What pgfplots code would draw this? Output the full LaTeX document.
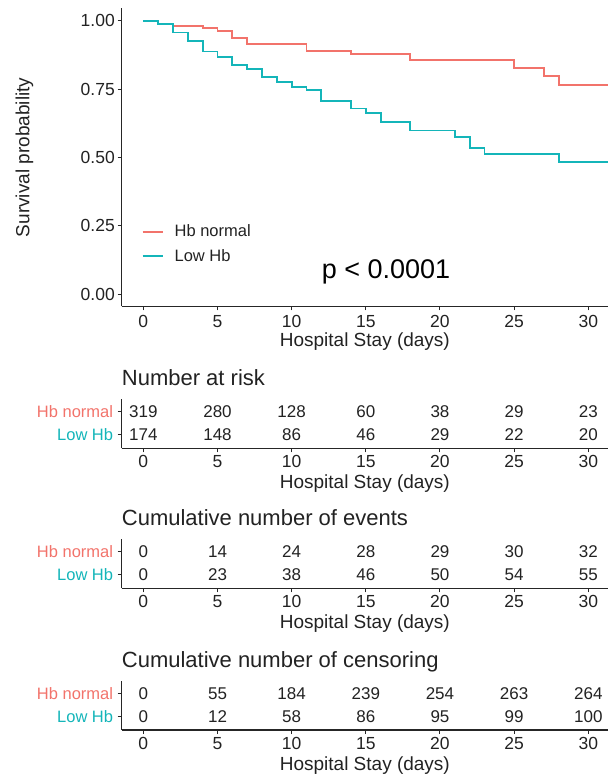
\documentclass[border=0pt]{standalone}
\usepackage{pgfplots}
\pgfplotsset{compat=1.18}
\usepackage{fontspec}
\setmainfont{Liberation Sans}
\definecolor{normc}{HTML}{F2736B}
\definecolor{lowc}{HTML}{14B5B9}
\definecolor{txt}{HTML}{222222}
\newcommand{\fs}[1]{\fontsize{#1bp}{#1bp}\selectfont}

\pgfplotsset{
  km/.style={
    scale only axis, width=486.3bp, xmin=-1.46, xmax=31.33,
    anchor=south west,
    axis lines*=left,
    axis line style={line width=1.1bp, black!85},
    tick align=outside, major tick length=4bp,
    tick style={line width=1bp, black!85},
    xtick={0,5,...,30},
    /pgf/number format/assume math mode=true,
    tick label style={font=\fs{17.5}, text=txt, inner sep=0pt},
    xticklabel style={anchor=north, yshift=-5bp},
    xlabel={Hospital Stay (days)},
    xlabel style={at={(axis description cs:0.5,0)}, anchor=center, yshift=-35.5bp, font=\fs{19}, text=txt},
    clip=false,
  },
  tab/.style={
    km, height=49bp, ymin=0.43, ymax=2.53,
    ytick={1,2},
    yticklabels={\textcolor{lowc}{Low Hb},\textcolor{normc}{Hb normal}},
    yticklabel style={anchor=east, font=\fs{16.5}, xshift=-4.4bp},
    xticklabel style={yshift=1.8bp},
    title style={at={(axis description cs:0,1)}, anchor=base west, inner sep=0pt, yshift=8bp, font=\fs{22}, text=txt},
    nodes near coords, point meta=explicit symbolic,
    every node near coord/.append style={anchor=center, font=\fs{17}, text=txt, inner sep=0pt},
  },
}

\begin{document}
\begin{tikzpicture}
\useasboundingbox (0,0) rectangle (608bp,781bp);

% ---------------- main survival plot ----------------
\begin{axis}[km, at={(121.7bp,474.5bp)}, height=298.2bp,
  ymin=-0.0455, ymax=1.0454,
  ytick={0,0.25,0.5,0.75,1},
  yticklabels={0.00,0.25,0.50,0.75,1.00},
  yticklabel style={anchor=east, xshift=-2.7bp},
  ylabel={Survival probability},
  ylabel style={at={(axis description cs:-0.2,0.5)}, anchor=center, font=\fs{19}, text=txt},
  clip=true,
  legend style={at={(axis cs:-0.115,0.1835)}, anchor=west, draw=none, fill=none,
    inner sep=0pt, row sep=11bp, column sep=11bp, font=\fs{16.5}, text=txt,
    nodes={inner sep=0pt}},
  legend cell align=left,
  legend image code/.code={\draw[#1] (0bp,0bp) -- (20bp,0bp);},
]
\addplot[const plot, color=normc, line width=1.8bp] coordinates {
(0,1.0) (1,0.990) (2,0.982) (4,0.974) (5,0.961) (6,0.937) (7,0.915)
(11,0.890) (14,0.878) (18,0.856) (25,0.828) (27,0.798) (28,0.765) (31.33,0.765)};
\addlegendentry{Hb normal}
\addplot[const plot, color=lowc, line width=1.8bp] coordinates {
(0,1.0) (1,0.988) (2,0.957) (3,0.927) (4,0.887) (5,0.866) (6,0.838)
(7,0.822) (8,0.793) (9,0.777) (10,0.756) (11,0.746) (12,0.706)
(14,0.679) (15,0.663) (16,0.630) (18,0.598) (21,0.576) (22,0.535)
(23,0.512) (28,0.484) (31.33,0.484)};
\addlegendentry{Low Hb}
\node[font=\fs{27}, text=black, inner sep=0pt] at (axis cs:16.36,0.08) {p < 0.0001};
\end{axis}

% ---------------- Number at risk ----------------
\begin{axis}[tab, at={(121.7bp,332.7bp)}, title={Number at risk}]
\addplot[draw=none, mark=none] table[meta=lab] {
x y lab
0 2 319
5 2 280
10 2 128
15 2 60
20 2 38
25 2 29
30 2 23
0 1 174
5 1 148
10 1 86
15 1 46
20 1 29
25 1 22
30 1 20
};
\end{axis}

% ---------------- Cumulative number of events ----------------
\begin{axis}[tab, at={(121.7bp,192.7bp)}, title={Cumulative number of events}]
\addplot[draw=none, mark=none] table[meta=lab] {
x y lab
0 2 0
5 2 14
10 2 24
15 2 28
20 2 29
25 2 30
30 2 32
0 1 0
5 1 23
10 1 38
15 1 46
20 1 50
25 1 54
30 1 55
};
\end{axis}

% ---------------- Cumulative number of censoring ----------------
\begin{axis}[tab, at={(121.7bp,51bp)}, title={Cumulative number of censoring}]
\addplot[draw=none, mark=none] table[meta=lab] {
x y lab
0 2 0
5 2 55
10 2 184
15 2 239
20 2 254
25 2 263
30 2 264
0 1 0
5 1 12
10 1 58
15 1 86
20 1 95
25 1 99
30 1 100
};
\end{axis}
\end{tikzpicture}
\end{document}
